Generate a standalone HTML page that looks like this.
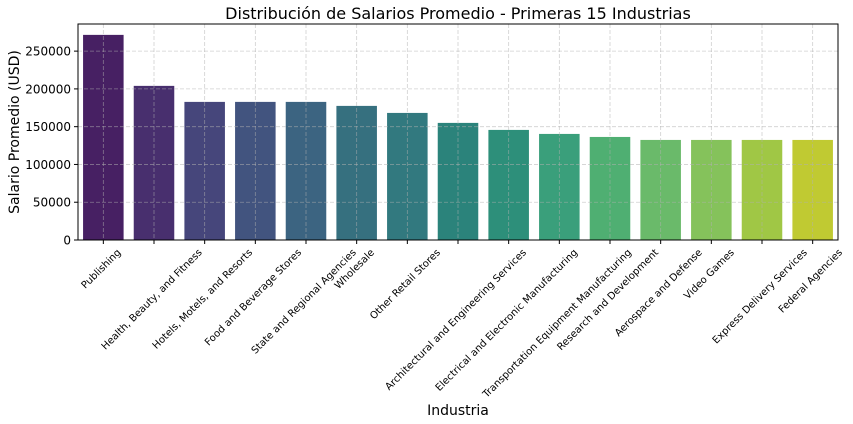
<!DOCTYPE html>
<html><head><meta charset="utf-8"><style>
html,body{margin:0;padding:0;background:#fff;width:853px;height:424px;overflow:hidden}
text{font-family:"DejaVu Sans","Liberation Sans",sans-serif;fill:#000}
</style></head><body>
<svg id="chart" width="853" height="424" xmlns="http://www.w3.org/2000/svg">
<text x="458" y="19" text-anchor="middle" font-size="16">Distribución de Salarios Promedio - Primeras 15 Industrias</text>
<g id="bars"></g><g id="grid"></g><g id="axes"></g>
<rect x="78" y="24" width="760" height="216" fill="none" stroke="#000" stroke-width="1"/>
<text transform="translate(19,132) rotate(-90)" text-anchor="middle" font-size="14">Salario Promedio (USD)</text>
<text x="458" y="415" text-anchor="middle" font-size="14">Industria</text>
</svg>
<script>
const categories=["Publishing","Health, Beauty, and Fitness","Hotels, Motels, and Resorts","Food and Beverage Stores","State and Regional Agencies","Wholesale","Other Retail Stores","Architectural and Engineering Services","Electrical and Electronic Manufacturing","Transportation Equipment Manufacturing","Research and Development","Aerospace and Defense","Video Games","Express Delivery Services","Federal Agencies"];
const salaries=[271500,204000,182800,182800,182800,177500,168200,155000,145700,140400,136400,132450,132450,132450,132450];
const yTicks=[0,50000,100000,150000,200000,250000];
const colors=["#472063","#482f6e","#46467b","#42547f","#3c6481","#36707f","#32797f","#2b837b","#2d8f7a","#3a9f7b","#4faf72","#6aba6a","#85c25b","#a0c745","#c0ca32"];
const L=78,R=838,T=24,B=240,yMax=285900;
const NS="http://www.w3.org/2000/svg";
const band=(R-L)/categories.length;
const x=i=>L+band*(i+0.5);
const y=v=>B-(v/yMax)*(B-T);
function mk(tag,attrs,parent){const e=document.createElementNS(NS,tag);for(const k in attrs)e.setAttribute(k,attrs[k]);parent.appendChild(e);return e;}
const grid=document.getElementById('grid'),bars=document.getElementById('bars'),axes=document.getElementById('axes');
yTicks.forEach(t=>{
 const g=mk('line',{x1:L,x2:R,y1:y(t),y2:y(t),stroke:'#b0b0b0','stroke-opacity':0.6,'stroke-dasharray':'4,2','stroke-width':0.8},grid);
 
 
 const tk=mk('line',{x1:L-4,x2:L,y1:y(t),y2:y(t),stroke:'#000'},axes);
 
 
 const tx=mk('text',{x:L-7,y:y(t)+4.5,'text-anchor':'end','font-size':12},axes);
 tx.textContent=t;
 
 
});
categories.forEach((c,i)=>{
 const g=mk('line',{x1:x(i),x2:x(i),y1:T,y2:B,stroke:'#b0b0b0','stroke-opacity':0.6,'stroke-dasharray':'4,2','stroke-width':0.8},grid);
 
 
 const w=band*0.8;
 const b=mk('rect',{x:x(i)-w/2,y:y(salaries[i]),width:w,height:B-y(salaries[i]),fill:colors[i]},bars);
 
 
 const tk=mk('line',{x1:x(i),x2:x(i),y1:B,y2:B+4,stroke:'#000'},axes);
 
 
 const tx=mk('text',{'text-anchor':'end','font-size':10},axes);
 tx.textContent=c;
 
 
 const len=tx.getComputedTextLength();
 const h=len*0.7071/2;
 tx.setAttribute('transform',`translate(${x(i)+h},${B+13}) rotate(-45)`);
});
</script>
</body></html>
